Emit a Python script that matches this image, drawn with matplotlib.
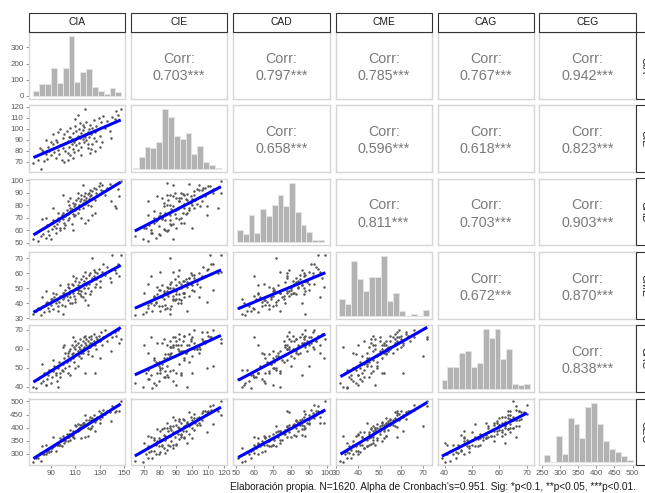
import numpy as np
import matplotlib
matplotlib.use('Agg')
import matplotlib.pyplot as plt
from matplotlib.patches import Rectangle

plt.rcParams['font.family'] = ['Liberation Sans', 'DejaVu Sans']

variables = ['CIA', 'CIE', 'CAD', 'CME', 'CAG', 'CEG']

CIA = [76, 78, 80, 82, 81, 84, 85, 86, 88, 87,
       89, 90, 91, 92, 93, 94, 95, 96, 94, 97,
       98, 99, 100, 100, 101, 102, 102, 103, 104, 104,
       105, 105, 106, 106, 107, 107, 108, 108, 109, 109,
       110, 110, 111, 111, 112, 112, 113, 113, 114, 114,
       115, 115, 116, 116, 117, 117, 118, 118, 119, 119,
       120, 120, 121, 121, 122, 122, 123, 123, 124, 125,
       125, 126, 127, 127, 128, 129, 130, 131, 132, 133,
       134, 136, 138, 140, 142, 143, 145, 147, 146, 98,
       115, 104, 120, 92, 110, 126, 86, 100, 130, 108,
       96, 118, 83, 139, 112, 101, 124, 90, 116, 106]
CIE = [69, 75, 72, 64, 83, 79, 71, 77, 84, 73,
       80, 76, 82, 86, 79, 74, 88, 81, 90, 77,
       85, 72, 92, 83, 95, 80, 87, 98, 78, 89,
       84, 93, 76, 101, 86, 91, 82, 96, 88, 79,
       103, 90, 85, 98, 94, 81, 100, 87, 92, 105,
       96, 84, 99, 91, 88, 102, 118, 95, 90, 106,
       97, 86, 100, 93, 78, 104, 95, 82, 101, 92,
       108, 97, 89, 103, 99, 110, 94, 106, 88, 112,
       101, 107, 98, 111, 109, 116, 113, 118, 108, 100,
       76, 72, 83, 95, 109, 80, 90, 86, 84, 74,
       97, 93, 81, 92, 113, 70, 86, 88, 104, 93]
CAD = [53, 58, 51, 55, 60, 57, 62, 54, 59, 64,
       56, 66, 61, 68, 63, 58, 65, 70, 62, 67,
       60, 72, 69, 74, 66, 71, 64, 76, 68, 73,
       80, 70, 75, 78, 65, 77, 82, 73, 79, 71,
       81, 76, 84, 78, 74, 86, 80, 77, 83, 79,
       85, 88, 82, 78, 87, 84, 90, 81, 86, 83,
       89, 80, 85, 90, 87, 92, 88, 79, 91, 86,
       94, 84, 90, 93, 87, 95, 89, 92, 96, 91,
       88, 94, 97, 95, 79, 78, 93, 99, 87, 62,
       70, 83, 68, 78, 72, 74, 70, 88, 98, 60,
       74, 66, 69, 83, 90, 62, 72, 53, 96, 86]
CME = [33, 35, 37, 32, 36, 38, 34, 40, 37, 41,
       35, 39, 43, 36, 44, 40, 42, 38, 46, 41,
       45, 39, 43, 47, 44, 49, 38, 45, 51, 42,
       46, 50, 44, 48, 53, 40, 47, 52, 45, 49,
       55, 43, 50, 57, 47, 52, 49, 54, 46, 51,
       56, 48, 53, 58, 50, 55, 61, 47, 52, 57,
       54, 50, 59, 53, 46, 60, 55, 48, 57, 62,
       58, 51, 56, 53, 60, 63, 55, 58, 61, 66,
       59, 64, 57, 72, 62, 60, 66, 72, 58, 52,
       45, 53, 39, 47, 41, 61, 48, 33, 51, 58,
       35, 42, 44, 54, 49, 47, 70, 43, 44, 40]
CAG = [40, 39, 44, 42, 45, 43, 47, 41, 46, 44,
       49, 42, 45, 48, 51, 46, 43, 50, 47, 53,
       45, 49, 52, 48, 55, 50, 58, 53, 47, 56,
       51, 59, 54, 60, 57, 62, 55, 58, 61, 53,
       60, 64, 57, 62, 59, 63, 56, 61, 65, 60,
       58, 62, 64, 60, 66, 61, 63, 67, 62, 65,
       59, 64, 66, 62, 63, 61, 67, 65, 63, 68,
       64, 62, 66, 60, 65, 67, 64, 69, 62, 66,
       70, 64, 68, 66, 69, 67, 70, 65, 63, 47,
       55, 58, 57, 54, 50, 47, 41, 61, 55, 66,
       40, 47, 52, 59, 51, 62, 56, 49, 58, 46]
CEG = [271, 285, 284, 275, 305, 301, 299, 298, 314, 309,
       309, 313, 322, 330, 330, 312, 333, 335, 339, 335,
       333, 331, 356, 352, 361, 352, 349, 375, 348, 364,
       366, 377, 355, 393, 368, 377, 374, 387, 382, 361,
       409, 383, 387, 406, 386, 394, 398, 392, 400, 409,
       410, 397, 414, 403, 408, 419, 450, 408, 409, 430,
       419, 400, 431, 419, 396, 439, 428, 397, 436, 433,
       449, 420, 428, 436, 439, 464, 432, 456, 439, 468,
       452, 465, 458, 484, 461, 464, 487, 501, 462, 359,
       361, 370, 367, 366, 382, 388, 335, 368, 418, 366,
       342, 366, 329, 427, 415, 342, 408, 323, 418, 371]

# diagonal histogram counts (15 bins each) and bin ranges
hist_CIA = [30, 75, 72, 170, 78, 170, 370, 88, 150, 165, 52, 27, 10, 47, 25]
hist_CIE = [5, 56, 104, 101, 128, 288, 248, 157, 144, 173, 72, 109, 32, 19, 3]
hist_CAD = [56, 38, 125, 42, 149, 119, 168, 213, 165, 270, 135, 80, 45, 11, 11]
hist_CME = [73, 51, 239, 160, 109, 170, 170, 258, 65, 99, 20, 0, 9, 0, 23]
hist_CAG = [38, 98, 98, 161, 170, 98, 113, 266, 228, 266, 131, 176, 23, 15, 20]
hist_CEG = [36, 0, 121, 39, 209, 178, 116, 259, 279, 181, 101, 62, 47, 31, 12]
hist_ranges = {'CIA': (76, 147.5), 'CIE': (62.8, 117.8), 'CAD': (50.4, 98.2),
               'CME': (31.1, 72.9), 'CAG': (38.9, 71.1), 'CEG': (256, 500)}

corr_text = {
    (0, 1): '0.703***', (0, 2): '0.797***', (0, 3): '0.785***', (0, 4): '0.767***', (0, 5): '0.942***',
    (1, 2): '0.658***', (1, 3): '0.596***', (1, 4): '0.618***', (1, 5): '0.823***',
    (2, 3): '0.811***', (2, 4): '0.703***', (2, 5): '0.903***',
    (3, 4): '0.672***', (3, 5): '0.870***',
    (4, 5): '0.838***',
}

caption = ("Elaboración propia. N=1620. Alpha de Cronbach's=0.951. "
           "Sig: *p<0.1, **p<0.05, ***p<0.01.")

data = {'CIA': CIA, 'CIE': CIE, 'CAD': CAD, 'CME': CME, 'CAG': CAG, 'CEG': CEG}
hists = {'CIA': hist_CIA, 'CIE': hist_CIE, 'CAD': hist_CAD,
         'CME': hist_CME, 'CAG': hist_CAG, 'CEG': hist_CEG}

xlims = {'CIA': (72, 150.5), 'CIE': (61.3, 121.8), 'CAD': (48.2, 101.3),
         'CME': (29.7, 74.2), 'CAG': (37.4, 72.6), 'CEG': (242, 508)}
ylims = dict(xlims)
ylims['CEG'] = (258, 511)
ticks = {'CIA': [90, 110, 130, 150], 'CIE': [70, 80, 90, 100, 110, 120],
         'CAD': [50, 60, 70, 80, 90, 100], 'CME': [30, 40, 50, 60, 70],
         'CAG': [40, 50, 60, 70], 'CEG': [250, 300, 350, 400, 450, 500]}

W, H = 645, 493
fig = plt.figure(figsize=(W / 100, H / 100), dpi=100)

lefts = [28.5, 130.5, 233, 335.5, 437.5, 539]
tops = [32, 105, 178.5, 252, 325, 398.5]
pw, ph = 96.5, 66.5

spine_col = '#d6d6d6'
tick_col = '#666666'
txt_gray = '#7a7a7a'

def fig_rect(l, t, w, h):
    return [l / W, 1 - (t + h) / H, w / W, h / H]

n = len(variables)
for i, vy in enumerate(variables):
    for j, vx in enumerate(variables):
        ax = fig.add_axes(fig_rect(lefts[j], tops[i], pw, ph))
        for s in ax.spines.values():
            s.set_color(spine_col)
            s.set_linewidth(1.0)
        ax.set_facecolor('white')
        if i == j:
            edges = np.linspace(hist_ranges[vx][0], hist_ranges[vx][1], len(hists[vx]) + 1)
            ax.bar(edges[:-1], hists[vx], width=np.diff(edges), align='edge',
                   facecolor='#b3b3b3', edgecolor='#e4e4e4', linewidth=0.7)
            mx = max(hists[vx])
            ax.set_xlim(*xlims[vx])
            ax.set_ylim(-0.045 * mx, 1.07 * mx)
        elif i > j:
            x = np.array(data[vx], dtype=float)
            y = np.array(data[vy], dtype=float)
            ax.scatter(x, y, s=3.2, color='#555555', linewidths=0, zorder=2)
            b1, b0 = np.polyfit(x, y, 1)
            xs = np.array([x.min(), x.max()])
            ax.plot(xs, b0 + b1 * xs, color='#0000ff', lw=2.2, zorder=3,
                    solid_capstyle='butt')
            ax.set_xlim(*xlims[vx])
            ax.set_ylim(*ylims[vy])
        else:
            ax.set_xlim(0, 1)
            ax.set_ylim(0, 1)
            ax.text(0.5, 0.6, 'Corr:', ha='center', va='center',
                    fontsize=10.3, color=txt_gray)
            ax.text(0.5, 0.335, corr_text[(i, j)], ha='center', va='center',
                    fontsize=10.3, color=txt_gray)
        ax.tick_params(axis='both', which='both', labelsize=5.8, colors=tick_col,
                       length=2, width=0.5, pad=1.5, labelcolor='#5a5a5a')
        if i == n - 1:
            ax.set_xticks(ticks[vx])
        else:
            ax.set_xticks([])
        if j == 0:
            if i == 0:
                ax.set_yticks([0, 100, 200, 300])
            else:
                ax.set_yticks(ticks[vy])
        else:
            ax.set_yticks([])
        if i == n - 1:
            ax.set_xlim(*xlims[vx])
        if j == 0 and i > 0:
            ax.set_ylim(*ylims[vy])

# top strips
for j, v in enumerate(variables):
    r = Rectangle((lefts[j] / W, 1 - 31.5 / H), pw / W, 19 / H, transform=fig.transFigure,
                  facecolor='white', edgecolor='#333333', linewidth=0.8)
    fig.patches.append(r)
    fig.text((lefts[j] + pw / 2) / W, 1 - 22 / H, v, ha='center', va='center',
             fontsize=7.4, color='#1a1a1a')

# right strips (partly outside the figure, as in the reference)
for i, v in enumerate(variables):
    r = Rectangle((636 / W, 1 - (tops[i] + ph) / H), 20 / W, ph / H, transform=fig.transFigure,
                  facecolor='white', edgecolor='#333333', linewidth=0.8, clip_on=False)
    fig.patches.append(r)
    fig.text(644.5 / W, 1 - (tops[i] + ph / 2) / H, v, ha='center', va='center',
             fontsize=7.4, color='#1a1a1a', rotation=-90)

fig.text(636 / W, 1 - 487 / H, caption, ha='right', va='center', fontsize=7.3, color='#1a1a1a')

fig.savefig('out.png', dpi=100)
